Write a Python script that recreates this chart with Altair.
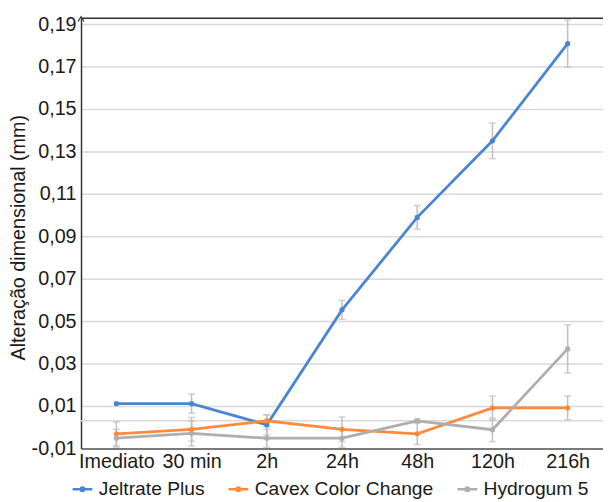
import altair as alt
import pandas as pd

categories = ["Imediato", "30 min", "2h", "24h", "48h", "120h", "216h"]
series_names = ["Jeltrate Plus", "Cavex Color Change", "Hydrogum 5"]
colors = ["#4A86D0", "#FF8A3D", "#AEAEAE"]

jeltrate = [0.0111, 0.0111, 0.0011, 0.0553, 0.0989, 0.1350, 0.1808]
jeltrate_err = [0.0, 0.0045, 0.0047, 0.0045, 0.0056, 0.0084, 0.0111]
cavex = [-0.0031, -0.0010, 0.0030, -0.0010, -0.0031, 0.0091, 0.0091]
cavex_err = [0.0056, 0.0056, 0.0028, 0.0058, 0.0051, 0.0056, 0.0056]
hydrogum = [-0.0052, -0.0029, -0.0052, -0.0052, 0.0030, -0.0012, 0.0369]
hydrogum_err = [0.0042, 0.0059, 0.0042, 0.0042, 0.0010, 0.0056, 0.0114]

y_ticks = [-0.01, 0.01, 0.03, 0.05, 0.07, 0.09, 0.11, 0.13, 0.15, 0.17, 0.19]
extra_line = [0.003]

rows = []
for name, vals, errs in zip(series_names, [jeltrate, cavex, hydrogum],
                            [jeltrate_err, cavex_err, hydrogum_err]):
    for c, v, e in zip(categories, vals, errs):
        rows.append({"cat": c, "series": name, "value": v,
                     "lo": v - e, "hi": v + e, "err": e})
df = pd.DataFrame(rows)

W, H = 529, 436
FONT = "Liberation Sans"

x_enc = alt.X("cat:N", sort=categories,
              scale=alt.Scale(type="point", padding=0.47),
              axis=alt.Axis(title=None, labelAngle=0, labelFontSize=20,
                            labelPadding=3, ticks=False, grid=False,
                            domainColor="#595959", domainWidth=1.5,
                            labelColor="#1a1a1a", labelFont=FONT))
y_scale = alt.Scale(domain=[-0.01, 0.1928], nice=False, zero=False)

base = alt.Chart(df)

grid_extra = alt.Chart(pd.DataFrame({"v": extra_line})).mark_rule(
    color="#D9D9D9", strokeWidth=1.5).encode(y=alt.Y("v:Q", scale=y_scale))

err_df = df[df["err"] > 0]
err_rules = alt.Chart(err_df).mark_rule(color="#BFBFBF", strokeWidth=1.5).encode(
    x=x_enc, y=alt.Y("lo:Q", scale=y_scale), y2="hi:Q")
err_caps_lo = alt.Chart(err_df).mark_tick(color="#BFBFBF", thickness=1.5, size=7).encode(
    x=x_enc, y=alt.Y("lo:Q", scale=y_scale))
err_caps_hi = alt.Chart(err_df).mark_tick(color="#BFBFBF", thickness=1.5, size=7).encode(
    x=x_enc, y=alt.Y("hi:Q", scale=y_scale))

lines = base.mark_line(strokeWidth=2.8,
                       point=alt.OverlayMarkDef(size=28, filled=True)).encode(
    x=x_enc,
    y=alt.Y("value:Q", scale=y_scale,
            axis=alt.Axis(values=y_ticks, title="Alteração dimensional (mm)",
                          titleFontSize=20, titleFont=FONT, titleFontWeight="normal",
                          titleColor="#1a1a1a", titleX=-63, titleY=H / 2 + 4,
                          titleAngle=-90, titleBaseline="middle", titleAlign="center",
                          labelFontSize=20, labelFont=FONT, labelColor="#1a1a1a",
                          labelPadding=5, ticks=False,
                          labelExpr="replace(replace(format(datum.value, '.2f'), '.', ','), '\u2212', '-')",
                          grid=True, gridColor="#D9D9D9", gridWidth=1.5,
                          domainColor="#333333", domainWidth=1.5)),
    color=alt.Color("series:N", sort=series_names,
                    scale=alt.Scale(domain=series_names, range=colors),
                    legend=alt.Legend(title=None, orient="none", direction="horizontal",
                                      legendX=-10, legendY=466,
                                      labelFontSize=19.5, labelFont=FONT,
                                      labelColor="#1a1a1a", labelLimit=0,
                                      symbolType="M-1,0H1M-0.18,0A0.18,0.18,0,1,0,0.18,0A0.18,0.18,0,1,0,-0.18,0Z",
                                      symbolSize=400, symbolStrokeWidth=2.5,
                                      labelOffset=5, columnPadding=18)),
    order=alt.Order("series_order:Q"),
).transform_calculate(
    series_order="indexof(['Jeltrate Plus','Cavex Color Change','Hydrogum 5'], datum.series)"
)

top_rule = alt.Chart(pd.DataFrame({"a": [0]})).mark_rule(
    color="#333333", strokeWidth=1.5).encode(
    x=alt.value(0), x2=alt.value(W), y=alt.value(0))

arrow = alt.Chart(pd.DataFrame({"a": [0]})).mark_point(
    shape="M-1,1.6L0,0L1,1.6", size=36, filled=False,
    color="#333333", strokeWidth=1.2, opacity=1).encode(
    x=alt.value(0), y=alt.value(-1.5))

chart = alt.layer(grid_extra, err_rules, err_caps_lo, err_caps_hi, lines,
                  top_rule, arrow).properties(
    width=W, height=H,
    autosize=alt.AutoSizeParams(type="none"),
    padding={"left": 74, "top": 7, "right": 0, "bottom": 51},
).configure_view(stroke=None).configure(font=FONT)

chart.save("out.html", embed_options={"renderer": "svg", "actions": False})
